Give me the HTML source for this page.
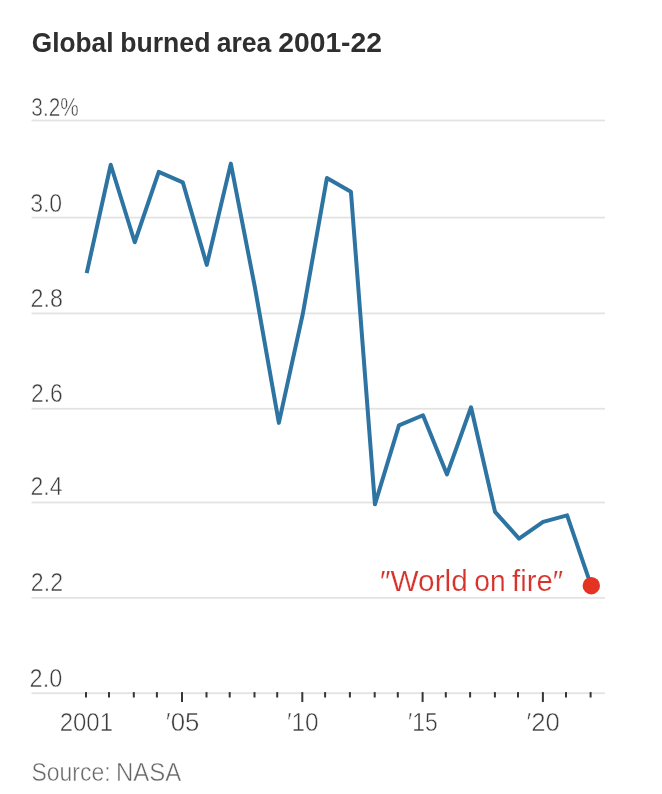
<!DOCTYPE html>
<html><head><meta charset="utf-8"><style>
html,body{margin:0;padding:0;background:#fff;width:662px;height:794px;overflow:hidden}
svg{display:block;font-family:"Liberation Sans", sans-serif;will-change:transform}
</style></head><body>
<svg width="662" height="794" viewBox="0 0 662 794">
<text x="31.83" y="51.6" font-size="28.5" font-weight="bold" fill="#2f2f2f" textLength="81.66" lengthAdjust="spacingAndGlyphs">Global</text>
<text x="120.23" y="51.6" font-size="28.5" font-weight="bold" fill="#2f2f2f" textLength="90.17" lengthAdjust="spacingAndGlyphs">burned</text>
<text x="216.64" y="51.6" font-size="28.5" font-weight="bold" fill="#2f2f2f" textLength="54.6" lengthAdjust="spacingAndGlyphs">area</text>
<text x="278.29" y="51.6" font-size="28.5" font-weight="bold" fill="#2f2f2f" textLength="103.64" lengthAdjust="spacingAndGlyphs">2001-22</text>
<rect x="31.5" y="119.60" width="573.5" height="1.8" fill="#e3e3e3"/>
<rect x="31.5" y="216.70" width="573.5" height="1.8" fill="#e3e3e3"/>
<rect x="31.5" y="312.50" width="573.5" height="1.8" fill="#e3e3e3"/>
<rect x="31.5" y="407.85" width="573.5" height="1.8" fill="#e3e3e3"/>
<rect x="31.5" y="501.60" width="573.5" height="1.8" fill="#e3e3e3"/>
<rect x="31.5" y="596.95" width="573.5" height="1.8" fill="#e3e3e3"/>
<rect x="31.5" y="692.30" width="573.5" height="1.8" fill="#e3e3e3"/>
<text x="31.35" y="116.33" font-size="25.75" fill="#3c3c3c" stroke="#fff" stroke-width="0.5" textLength="47.27" lengthAdjust="spacingAndGlyphs">3.2%</text>
<text x="30.14" y="211.83" font-size="25.75" fill="#3c3c3c" stroke="#fff" stroke-width="0.5" textLength="32.06" lengthAdjust="spacingAndGlyphs">3.0</text>
<text x="30.48" y="306.83" font-size="25.75" fill="#3c3c3c" stroke="#fff" stroke-width="0.5" textLength="32.35" lengthAdjust="spacingAndGlyphs">2.8</text>
<text x="30.96" y="402.33" font-size="25.75" fill="#3c3c3c" stroke="#fff" stroke-width="0.5" textLength="31.74" lengthAdjust="spacingAndGlyphs">2.6</text>
<text x="30.49" y="495.33" font-size="25.75" fill="#3c3c3c" stroke="#fff" stroke-width="0.5" textLength="32.01" lengthAdjust="spacingAndGlyphs">2.4</text>
<text x="30.87" y="591.33" font-size="25.75" fill="#3c3c3c" stroke="#fff" stroke-width="0.5" textLength="32.13" lengthAdjust="spacingAndGlyphs">2.2</text>
<text x="29.61" y="686.83" font-size="25.75" fill="#3c3c3c" stroke="#fff" stroke-width="0.5" textLength="32.63" lengthAdjust="spacingAndGlyphs">2.0</text>
<rect x="85.00" y="692.1" width="2.0" height="5.40" fill="#363636"/>
<rect x="108.00" y="692.1" width="2.0" height="5.40" fill="#363636"/>
<rect x="132.80" y="692.1" width="2.0" height="5.40" fill="#363636"/>
<rect x="155.90" y="692.1" width="2.0" height="5.40" fill="#363636"/>
<rect x="181.00" y="692.1" width="2.0" height="9.90" fill="#363636"/>
<rect x="205.50" y="692.1" width="2.0" height="5.40" fill="#363636"/>
<rect x="228.70" y="692.1" width="2.0" height="5.40" fill="#363636"/>
<rect x="253.50" y="692.1" width="2.0" height="5.40" fill="#363636"/>
<rect x="276.20" y="692.1" width="2.0" height="5.40" fill="#363636"/>
<rect x="301.30" y="692.1" width="2.0" height="9.90" fill="#363636"/>
<rect x="324.10" y="692.1" width="2.0" height="5.40" fill="#363636"/>
<rect x="348.90" y="692.1" width="2.0" height="5.40" fill="#363636"/>
<rect x="373.70" y="692.1" width="2.0" height="5.40" fill="#363636"/>
<rect x="396.80" y="692.1" width="2.0" height="5.40" fill="#363636"/>
<rect x="421.60" y="692.1" width="2.0" height="9.90" fill="#363636"/>
<rect x="444.80" y="692.1" width="2.0" height="5.40" fill="#363636"/>
<rect x="469.10" y="692.1" width="2.0" height="5.40" fill="#363636"/>
<rect x="493.90" y="692.1" width="2.0" height="5.40" fill="#363636"/>
<rect x="517.00" y="692.1" width="2.0" height="5.40" fill="#363636"/>
<rect x="541.90" y="692.1" width="2.0" height="9.90" fill="#363636"/>
<rect x="565.00" y="692.1" width="2.0" height="5.40" fill="#363636"/>
<rect x="589.60" y="692.1" width="2.0" height="5.40" fill="#363636"/>
<text x="59.72" y="730.83" font-size="25.5" fill="#3c3c3c" stroke="#fff" stroke-width="0.5" textLength="53.22" lengthAdjust="spacingAndGlyphs">2001</text>
<text x="165.79" y="730.62" font-size="25.5" fill="#3c3c3c" stroke="#fff" stroke-width="0.5" textLength="33.61" lengthAdjust="spacingAndGlyphs">′05</text>
<text x="286.91" y="731.33" font-size="25.5" fill="#3c3c3c" stroke="#fff" stroke-width="0.5" textLength="31.6" lengthAdjust="spacingAndGlyphs">′10</text>
<text x="408.03" y="731.33" font-size="25.5" fill="#3c3c3c" stroke="#fff" stroke-width="0.5" textLength="29.78" lengthAdjust="spacingAndGlyphs">′15</text>
<text x="526.49" y="731.33" font-size="25.5" fill="#3c3c3c" stroke="#fff" stroke-width="0.5" textLength="33.36" lengthAdjust="spacingAndGlyphs">′20</text>
<path d="M86.70,273.06 L110.72,164.73 L134.74,242.25 L158.76,171.85 L182.78,182.30 L206.80,264.87 L230.82,163.64 L254.84,287.00 L278.86,422.90 L302.88,313.50 L326.90,178.05 L350.92,191.70 L374.94,504.30 L398.96,425.30 L422.98,415.27 L447.00,474.39 L471.02,407.26 L495.04,511.80 L519.06,538.58 L543.08,521.90 L567.10,515.33 L591.12,585.70" fill="none" stroke="#2d74a3" stroke-width="4.0" stroke-linejoin="round"/>
<circle cx="591.3" cy="585.7" r="8.7" fill="#e43223"/>
<text x="380.03" y="591.1" font-size="29.5" fill="#d8322c" stroke="#fff" stroke-width="0.2" textLength="87.69" lengthAdjust="spacingAndGlyphs">″World</text>
<text x="474.27" y="591.1" font-size="29.5" fill="#d8322c" stroke="#fff" stroke-width="0.2" textLength="31.36" lengthAdjust="spacingAndGlyphs">on</text>
<text x="512.0" y="591.1" font-size="29.5" fill="#d8322c" stroke="#fff" stroke-width="0.2" textLength="51.15" lengthAdjust="spacingAndGlyphs">fire″</text>
<text x="31.53" y="780.83" font-size="25.5" fill="#666666" stroke="#fff" stroke-width="0.5" textLength="79.13" lengthAdjust="spacingAndGlyphs">Source:</text>
<text x="116.0" y="780.83" font-size="25.5" fill="#666666" stroke="#fff" stroke-width="0.5" textLength="65.32" lengthAdjust="spacingAndGlyphs">NASA</text>
</svg>
</body></html>
